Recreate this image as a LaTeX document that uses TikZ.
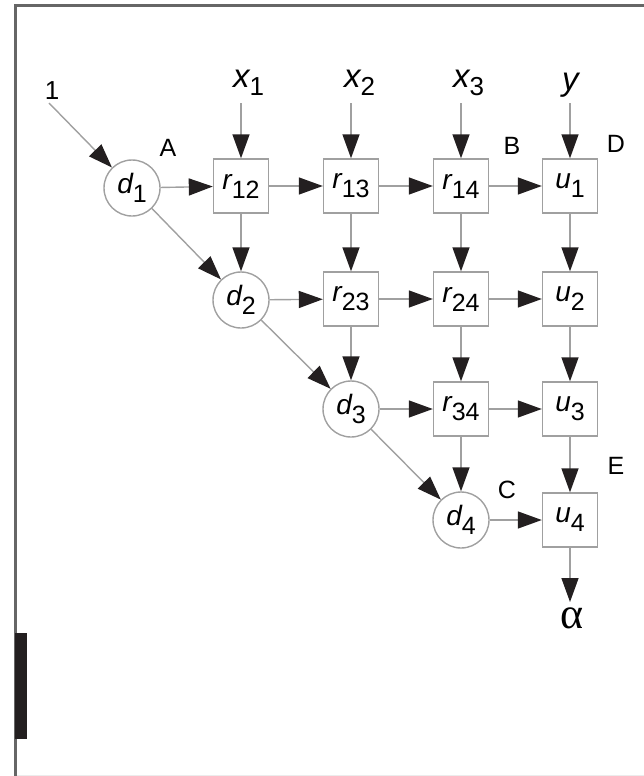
\documentclass[tikz,border=0pt]{standalone}
\usepackage{fontspec}
\setmainfont{Liberation Sans}
\newfontfamily\greekfont{Liberation Serif}
\usetikzlibrary{arrows.meta}
\definecolor{inkblack}{HTML}{231F20}
\definecolor{linegray}{HTML}{A0A0A0}
\newcommand\symb[2]{{\fontsize{28}{30}\selectfont\itshape #1}\raisebox{-9pt}{\fontsize{25}{28}\selectfont #2}}
\newcommand\inx[2]{{\fontsize{33}{35}\selectfont\itshape #1}\raisebox{-8pt}{\fontsize{26}{28}\selectfont #2}}
\begin{document}
\begin{tikzpicture}[x=1pt,y=-1pt,
  box/.style={draw=linegray,line width=1.4pt,minimum width=55pt,minimum height=54pt,inner sep=0pt,fill=white},
  circ/.style={circle,draw=linegray,line width=1.4pt,minimum size=56pt,inner sep=0pt,fill=white},
  arr/.style={draw=linegray,line width=1.4pt,-{Triangle[length=24pt,width=17pt,color=inkblack,fill=inkblack]}},
  inlab/.style={inner sep=0pt,anchor=base west},
  letlab/.style={inner sep=0pt,font=\fontsize{25}{28}\selectfont}]
\useasboundingbox (0,0) rectangle (644,776);
% frame
\draw[gray!80!black,line width=3pt] (644,5.5) -- (15.5,5.5) -- (15.5,776);
\draw[gray!15,line width=1pt] (17,775) -- (644,775);
\fill[inkblack] (15,633) rectangle (27,739);
% nodes
\node[circ] (d1) at (132,188) {\symb{d}{1}};
\node[box] (r12) at (241,186) {\symb{r}{12}};
\node[box] (r13) at (351,186) {\symb{r}{13}};
\node[box] (r14) at (461,186) {\symb{r}{14}};
\node[box] (u1) at (570,186) {\symb{u}{1}};
\node[circ] (d2) at (241,300) {\symb{d}{2}};
\node[box] (r23) at (351,299) {\symb{r}{23}};
\node[box] (r24) at (461,299) {\symb{r}{24}};
\node[box] (u2) at (570,299) {\symb{u}{2}};
\node[circ] (d3) at (351,409) {\symb{d}{3}};
\node[box] (r34) at (461,409) {\symb{r}{34}};
\node[box] (u3) at (570,409) {\symb{u}{3}};
\node[circ] (d4) at (461,520) {\symb{d}{4}};
\node[box] (u4) at (570,520) {\symb{u}{4}};
% input labels
\node[letlab,font=\fontsize{26}{28}\selectfont] (one) at (52,91) {1};
\node[inlab] (x1) at (233,88) {\inx{x}{1}};
\node[inlab] (x2) at (344,87) {\inx{x}{2}};
\node[inlab] (x3) at (453,88) {\inx{x}{3}};
\node[inlab] (ylab) at (562,90) {\inx{y}{}};
\node[inner sep=0pt,font=\fontsize{44}{46}\greekfont] (alpha) at (572,618) {α};
% corner letters
\node[letlab] (A) at (168,148) {A};
\node[letlab] (B) at (512,146) {B};
\node[letlab] (C) at (507,490) {C};
\node[letlab] (D) at (616,144) {D};
\node[letlab] (E) at (616,466) {E};
% connector ends
\coordinate (s1) at (49,103);
\coordinate (t1) at (241,103);
\coordinate (t2) at (351,103);
\coordinate (t3) at (461,103);
\coordinate (ty) at (570,103);
\coordinate (aend) at (570,602);
% connectors
\draw[arr] (s1) -- (d1);
\draw[arr] (t1) -- (r12);
\draw[arr] (t2) -- (r13);
\draw[arr] (t3) -- (r14);
\draw[arr] (ty) -- (u1);
\draw[arr] (d1) -- (r12);
\draw[arr] (r12) -- (r13);
\draw[arr] (r13) -- (r14);
\draw[arr] (r14) -- (u1);
\draw[arr] (d2) -- (r23);
\draw[arr] (r23) -- (r24);
\draw[arr] (r24) -- (u2);
\draw[arr] (d3) -- (r34);
\draw[arr] (r34) -- (u3);
\draw[arr] (d4) -- (u4);
\draw[arr] (r12) -- (d2);
\draw[arr] (r13) -- (r23);
\draw[arr] (r23) -- (d3);
\draw[arr] (r14) -- (r24);
\draw[arr] (r24) -- (r34);
\draw[arr] (r34) -- (d4);
\draw[arr] (u1) -- (u2);
\draw[arr] (u2) -- (u3);
\draw[arr] (u3) -- (u4);
\draw[arr] (d1) -- (d2);
\draw[arr] (d2) -- (d3);
\draw[arr] (d3) -- (d4);
\draw[arr] (u4.south) -- (aend);
\end{tikzpicture}
\end{document}
